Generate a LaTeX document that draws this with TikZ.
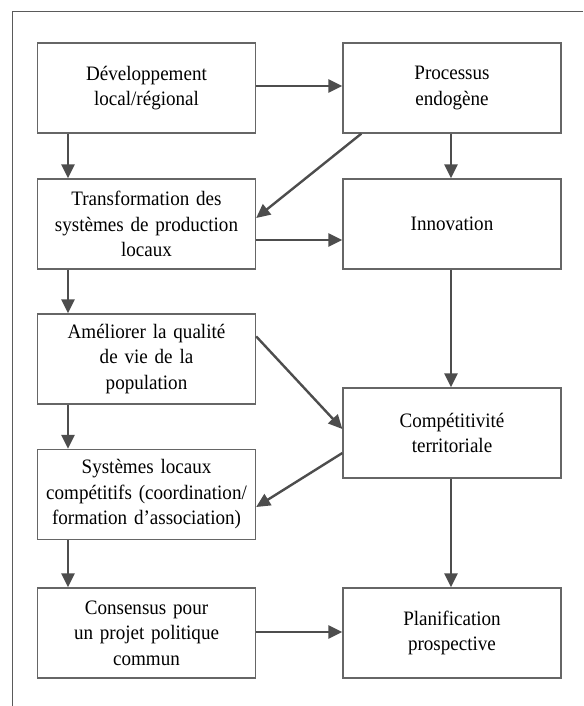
\documentclass[tikz,border=0pt]{standalone}
\usepackage{fontspec}
\setmainfont{Liberation Serif}[FakeStretch=0.93,WordSpace=0.8]
\usetikzlibrary{arrows.meta,calc}
\definecolor{boxline}{HTML}{666666}
\definecolor{arrcol}{HTML}{4D4D4D}
\definecolor{framecol}{HTML}{5A5A5A}
\begin{document}
\begin{tikzpicture}[x=1pt,y=-1pt,
  box/.style={draw=boxline,line width=1.3pt,minimum width=218pt,minimum height=90pt,
    inner sep=0pt,align=center,text width=212pt,
    font=\fontsize{20.5pt}{25.5pt}\selectfont},
  arr/.style={draw=arrcol,line width=2.4pt,-{Triangle[length=14pt,width=13pt]}}]
\useasboundingbox (0,0) rectangle (583,706);
\draw[framecol,line width=1pt] (583,11.5) -- (12.5,11.5) -- (12.5,706);
\node[box] (b1) at (146.5,88) {Développement\\local/régional};
\node[box] (b2) at (452,88) {Processus\\endogène};
\node[box] (b3) at (146.5,224) {Transformation des\\systèmes de production\\locaux};
\node[box] (b4) at (452,224) {Innovation};
\node[box] (b5) at (146.5,359) {Améliorer la qualité\\de vie de la\\population};
\node[box] (b6) at (452,433) {Compétitivité\\territoriale};
\node[box] (b7) at (146.5,494.5) {Systèmes locaux\\compétitifs (coordination/\\formation d’association)};
\node[box] (b8) at (146.5,633) {Consensus pour\\un projet politique\\commun};
\node[box] (b9) at (452,633) {Planification\\prospective};
\coordinate (lx) at (68,0);
\coordinate (rx) at (451,0);
\coordinate (h1) at (0,86);
\coordinate (h2) at (0,240);
\coordinate (h3) at (0,632);
% verticals left
\draw[arr] (b1.south -| lx) -- (b3.north -| lx);
\draw[arr] (b3.south -| lx) -- (b5.north -| lx);
\draw[arr] (b5.south -| lx) -- (b7.north -| lx);
\draw[arr] (b7.south -| lx) -- (b8.north -| lx);
% verticals right
\draw[arr] (b2.south -| rx) -- (b4.north -| rx);
\draw[arr] (b4.south -| rx) -- (b6.north -| rx);
\draw[arr] (b6.south -| rx) -- (b9.north -| rx);
% horizontals
\draw[arr] (b1.east |- h1) -- (b2.west |- h1);
\draw[arr] (b3.east |- h2) -- (b4.west |- h2);
\draw[arr] (b8.east |- h3) -- (b9.west |- h3);
% diagonals
\draw[arr] ($(b2.south west)+(19,0)$) -- ($(b3.east)+(0,-6)$);
\draw[arr] ($(b5.north east)+(0,23)$) -- ($(b6.west)+(0,-4)$);
\draw[arr] ($(b6.west)+(0,20)$) -- ($(b7.east)+(0,12.5)$);
\end{tikzpicture}
\end{document}
